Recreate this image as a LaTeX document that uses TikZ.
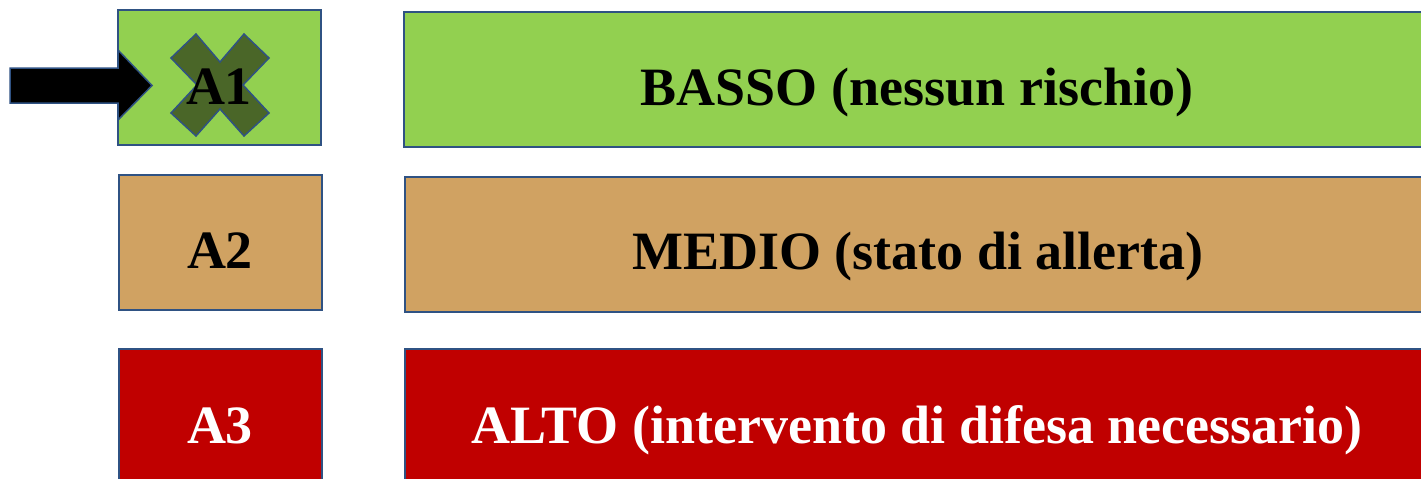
\documentclass[tikz,border=0pt]{standalone}
\usepackage{fontspec}
\setmainfont{Liberation Serif}
\definecolor{lgreen}{HTML}{92D050}
\definecolor{ltan}{HTML}{D0A262}
\definecolor{lred}{HTML}{C00000}
\definecolor{edgeblue}{HTML}{2F5283}
\definecolor{xgreen}{HTML}{4A6628}
\begin{document}
\begin{tikzpicture}[x=1pt,y=-1pt,
  box/.style={draw=edgeblue,line width=2pt,rectangle,inner sep=0pt},
  small/.style={box,minimum width=203pt,minimum height=135pt},
  wide/.style={box,minimum width=1020pt,minimum height=135pt},
  lbl/.style={anchor=base,inner sep=0pt,font=\fontsize{54}{60}\selectfont\bfseries}]
\useasboundingbox (0,0) rectangle (1421,479);
\clip (0,0) rectangle (1421,479);
% left level boxes
\node[small,fill=lgreen] (a1) at (219.5,77.5) {};
\node[small,fill=ltan] (a2) at (220,242.5) {};
\node[small,fill=lred] (a3) at (220,416.5) {};
% right description boxes
\node[wide,fill=lgreen] (b1) at (914,79.5) {};
\node[wide,fill=ltan] (b2) at (915,244) {};
\node[wide,fill=lred] (b3) at (915,416.5) {};
% texts
\node[lbl] (t2) at (220,268) {A2};
\node[lbl,text=white] (t3) at (220,443) {A3};
\node[lbl] (u1) at (917,105) {BASSO (nessun rischio)};
\node[lbl] (u2) at (918,269) {MEDIO (stato di allerta)};
\node[lbl,text=white] (u3) at (917,443) {ALTO (intervento di difesa necessario)};
% cross mark on A1
\draw[draw=edgeblue,line width=1.5pt,fill=xgreen]
  (171,58) -- (196,34) -- (220,62) -- (244,34) -- (269,58) -- (243,85)
  -- (269,113) -- (244,136) -- (220,109) -- (196,136) -- (171,113) -- (197,85) -- cycle;
\node[lbl] (t1) at (219,104) {A1};
% pointer arrow
\draw[draw=edgeblue,line width=1.5pt,fill=black]
  (10,68) -- (118,68) -- (118,50) -- (152,85.5) -- (118,120) -- (118,103) -- (10,103) -- cycle;
\end{tikzpicture}
\end{document}
